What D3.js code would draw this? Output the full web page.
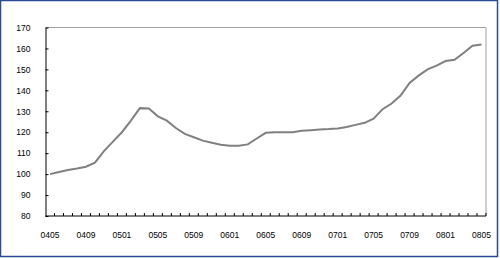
<!DOCTYPE html>
<html>
<head>
<meta charset="utf-8">
<script src="https://cdn.jsdelivr.net/npm/d3@7"></script>
<style>
  body { margin: 0; background: #fff; }
  svg text { font-family: "Liberation Sans", Arial, sans-serif; font-size: 8.5px; fill: #000; }
</style>
</head>
<body>
<svg id="chart" width="500" height="258"></svg>
<script>
// monthly index, 2004-05 .. 2008-05
const months = [];
for (let y = 4; y <= 8; y++) {
  for (let m = 1; m <= 12; m++) {
    if ((y === 4 && m < 5) || (y === 8 && m > 5)) continue;
    months.push(String(y).padStart(2, '0') + String(m).padStart(2, '0'));
  }
}
const values = [
  100, 101, 102, 102.7, 103.5, 105.5, 111, 115.5, 120, 125.5,
  131.5, 131.3, 127.6, 125.5, 122, 119.2, 117.6, 116, 115, 114,
  113.6, 113.6, 114.2, 117, 119.7, 120, 120, 120, 120.7, 121,
  121.3, 121.5, 121.8, 122.5, 123.5, 124.5, 126.5, 131, 133.7, 137.5,
  143.5, 147, 150, 151.8, 154, 154.6, 157.8, 161.3, 161.9
];
const xLabels = ['0405', '0409', '0501', '0505', '0509', '0601', '0605', '0609', '0701', '0705', '0709', '0801', '0805'];
const yTicks = [80, 90, 100, 110, 120, 130, 140, 150, 160, 170];

const svg = d3.select('#chart');
const margin = { top: 27.5, right: 14, bottom: 42, left: 45.5 };
const width = 486 - 45.5;
const height = 216 - 27.5;

// outer frame
svg.append('rect')
  .attr('x', 0.5).attr('y', 0.5)
  .attr('width', 497).attr('height', 256)
  .attr('fill', 'none')
  .attr('stroke', '#2b4a94')
  .attr('stroke-width', 1.5);

const g = svg.append('g')
  .attr('transform', `translate(${margin.left},${margin.top})`);

const x = d3.scaleBand().domain(months).range([0, width]);
const y = d3.scaleLinear().domain([80, 170]).range([height, 0]);

// plot area frame (top and right in gray)
g.append('path')
  .attr('d', `M0,0H${width}V${height}`)
  .attr('fill', 'none')
  .attr('stroke', '#a0a0a0')
  .attr('stroke-width', 1);

// y axis
const yAxis = g.append('g')
  .call(d3.axisLeft(y).tickValues(yTicks).tickSizeInner(-3).tickSizeOuter(0).tickPadding(15));
yAxis.select('.domain').attr('stroke', '#000');
yAxis.selectAll('.tick line').attr('stroke', '#000');
yAxis.selectAll('text').attr('font-family', null).attr('font-size', null);

// x axis: ticks at category boundaries, pointing inward
const xg = g.append('g').attr('transform', `translate(0,${height})`);
xg.append('line')
  .attr('x1', 0).attr('x2', width)
  .attr('stroke', '#000');
xg.selectAll('line.tk')
  .data(months.slice(1).concat(['end']))
  .join('line')
  .attr('class', 'tk')
  .attr('x1', (d, i) => x.step() * (i + 1))
  .attr('x2', (d, i) => x.step() * (i + 1))
  .attr('y1', 0).attr('y2', -3)
  .attr('stroke', '#000');
xg.selectAll('text')
  .data(xLabels)
  .join('text')
  .attr('x', d => x(d) + x.bandwidth() / 2)
  .attr('y', 22)
  .attr('text-anchor', 'middle')
  .text(d => d);

// line
const line = d3.line()
  .x((d, i) => x(months[i]) + x.bandwidth() / 2)
  .y(d => y(d));

g.append('path')
  .datum(values)
  .attr('d', line)
  .attr('fill', 'none')
  .attr('stroke', '#808080')
  .attr('stroke-width', 2);
</script>
</body>
</html>
